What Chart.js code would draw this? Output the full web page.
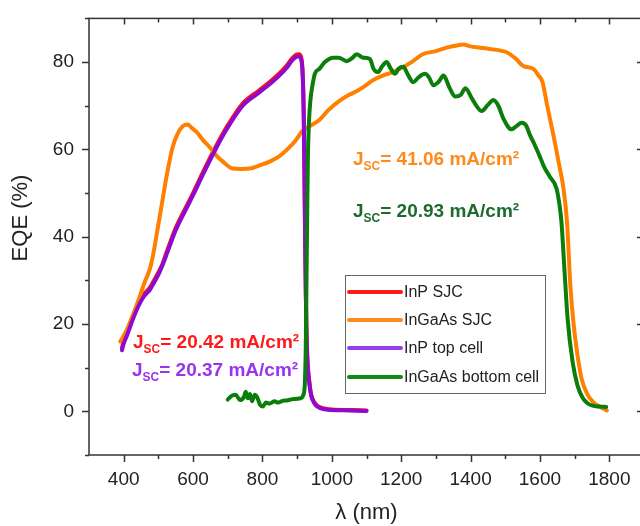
<!DOCTYPE html>
<html>
<head>
<meta charset="utf-8">
<script src="https://cdn.jsdelivr.net/npm/chart.js@4.4.0/dist/chart.umd.min.js"></script>
<style>
  html, body { margin: 0; padding: 0; overflow: hidden; background: #fff; }
  #wrap { width: 644px; height: 526px; position: relative; }
</style>
</head>
<body>
<div id="wrap"><canvas id="eqe"></canvas></div>
<script>
// wavelengths (nm) and EQE (%)
const inpTopWl  = [395, 400, 410, 426, 445, 460, 475, 484, 500, 513, 524, 550, 581, 600, 630, 668, 700, 743, 790, 829, 850, 870, 885, 898, 905, 912, 916, 919, 921, 923, 925, 927, 930, 935, 940, 950, 960, 975, 1000, 1050, 1100];
const inpTopEqe = [14, 15.5, 17.5, 21, 24.5, 26.5, 27.8, 29, 31.3, 33.7, 36, 41.5, 46.5, 49.5, 54.5, 60.5, 65, 70, 73, 75.5, 77, 78.7, 80.3, 81.2, 81.3, 80.5, 77, 68, 55, 40, 27, 18, 11, 6.5, 3.8, 1.8, 1, 0.5, 0.3, 0.2, 0.1];

const inpSjcWl  = [395, 400, 410, 426, 445, 460, 475, 484, 500, 513, 524, 550, 581, 600, 630, 668, 700, 743, 790, 829, 850, 870, 885, 898, 905, 912, 916, 919, 921, 923, 925, 927, 930, 935, 940, 950, 960, 975, 1000, 1050, 1100];
const inpSjcEqe = [14.5, 16, 18, 21.5, 25, 27, 28.3, 29.5, 31.8, 34, 36.5, 42, 47, 50, 55, 61, 65.5, 70.5, 73.5, 76, 77.5, 79.2, 80.8, 81.7, 81.8, 81, 77.5, 68.5, 55.5, 40.5, 27.5, 18.5, 11.5, 7, 4, 2, 1.2, 0.7, 0.4, 0.3, 0.2];

const ingaasSjcWl  = [390, 405, 426, 445, 460, 475, 484, 494, 509, 524, 541, 555, 570, 585, 595, 610, 630, 648, 668, 686, 714, 740, 763, 790, 821, 850, 878, 895, 916, 940, 965, 990, 1020, 1050, 1071, 1095, 1118, 1150, 1170, 1195, 1230, 1262, 1300, 1331, 1360, 1380, 1400, 1428, 1455, 1505, 1530, 1552, 1582, 1596, 1607, 1621, 1640, 1654, 1668, 1678, 1688, 1697, 1707, 1720, 1736, 1755, 1774, 1793];
const ingaasSjcEqe = [16, 18, 22, 26, 29.5, 32.5, 35.5, 40, 47, 54, 60.5, 63.5, 65.3, 65.7, 65, 64, 62, 60.5, 58.5, 57.2, 55.6, 55.5, 55.6, 56.3, 57.2, 58.5, 60.5, 62, 64.3, 65.5, 66.8, 69, 71, 72.5, 73.3, 74.5, 75.8, 77, 77.5, 78.4, 80, 81.8, 82.5, 83.3, 83.8, 84, 83.6, 83.3, 83, 82.2, 80.8, 79.1, 78.4, 76.9, 75.5, 70, 62.8, 57, 51, 43.4, 28.5, 20, 13.6, 7.5, 4, 2, 1, 0.2];

const ingaasBotWl  = [700, 710, 723, 735, 746, 752, 758, 764, 770, 778, 785, 793, 801, 810, 821, 835, 845, 858, 870, 887, 900, 910, 918, 922, 925, 927, 929, 931, 934, 938, 945, 951, 965, 980, 1004, 1020, 1043, 1060, 1071, 1090, 1110, 1120, 1133, 1145, 1158, 1170, 1182, 1193, 1206, 1220, 1235, 1250, 1269, 1280, 1293, 1308, 1322, 1340, 1356, 1372, 1385, 1405, 1432, 1450, 1466, 1480, 1495, 1518, 1535, 1547, 1560, 1570, 1585, 1599, 1612, 1628, 1648, 1656, 1662, 1671, 1680, 1694, 1708, 1723, 1738, 1752, 1770, 1791];
const ingaasBotEqe = [2.7, 3.5, 3.8, 2.6, 3.2, 4.5, 3.0, 4.0, 2.3, 3.8, 3.2, 1.5, 1.1, 2.0, 1.8, 2.3, 2.0, 2.4, 2.5, 2.8, 2.9, 3.0, 3.8, 6, 15, 30, 45, 58, 66, 71, 75, 77.3, 78.5, 80, 81, 81, 80.2, 81, 81.8, 81, 80.7, 78.5, 77.7, 79, 80, 78.5, 77.3, 78.5, 78.9, 77, 75.4, 76.5, 77.3, 76.5, 74.7, 75.5, 76.9, 74, 72.1, 72.5, 74, 71.5, 68.8, 70.2, 71.3, 70, 67, 64.6, 65.5, 66.1, 65.5, 63.5, 61, 58.5, 56, 53.8, 51, 47.5, 43.4, 32, 21, 11.4, 6, 3.1, 1.8, 1.3, 1.1, 1];

const xMajorTicks = [400, 600, 800, 1000, 1200, 1400, 1600, 1800];
const xMinorTicks = [500, 700, 900, 1100, 1300, 1500, 1700];
const yMajorTicks = [0, 20, 40, 60, 80];
const yMinorTicks = [-10, 10, 30, 50, 70, 90];

const seriesNames = ['InP SJC', 'InGaAs SJC', 'InP top cell', 'InGaAs bottom cell'];
const seriesColors = ['#ff1010', '#ff8000', '#8e0ad0', '#0a7d0a'];
const legendColors = ['#ff1a1a', '#ff8a1a', '#9440ee', '#138a13'];
const jscLabels = ['20.42', '41.06', '20.37', '20.93'];
const jscColors = ['#ff1a1a', '#ff8a1a', '#9933ee', '#1d6b2e'];

const FONT = '"Liberation Sans", Arial, sans-serif';

function toPoints(wl, eqe) {
    return wl.map((w, i) => ({ x: w, y: eqe[i] }));
}

const frame = {
    id: 'frame',
    afterDraw(chart) {
        const ctx = chart.ctx;
        const { left, right, top, bottom } = chart.chartArea;
        const xs = chart.scales.x, ys = chart.scales.y;
        ctx.save();
        ctx.strokeStyle = '#333';
        ctx.lineWidth = 1.5;
        ctx.strokeRect(left, top, right - left, bottom - top);

        ctx.beginPath();
        xMajorTicks.forEach(v => {
            const p = Math.round(xs.getPixelForValue(v)) + 0.5;
            ctx.moveTo(p, bottom); ctx.lineTo(p, bottom + 7);
            ctx.moveTo(p, top); ctx.lineTo(p, top + 6);
        });
        xMinorTicks.forEach(v => {
            const p = Math.round(xs.getPixelForValue(v)) + 0.5;
            ctx.moveTo(p, bottom); ctx.lineTo(p, bottom + 4);
            ctx.moveTo(p, top); ctx.lineTo(p, top + 4);
        });
        yMajorTicks.forEach(v => {
            const p = Math.round(ys.getPixelForValue(v)) + 0.5;
            ctx.moveTo(left - 7, p); ctx.lineTo(left, p);
            ctx.moveTo(right - 7, p); ctx.lineTo(right, p);
        });
        yMinorTicks.forEach(v => {
            const p = Math.round(ys.getPixelForValue(v)) + 0.5;
            ctx.moveTo(left - 4, p); ctx.lineTo(left, p);
            ctx.moveTo(right - 4, p); ctx.lineTo(right, p);
        });
        ctx.stroke();

        // axis titles
        ctx.fillStyle = '#222';
        ctx.textAlign = 'center';
        ctx.textBaseline = 'middle';
        ctx.font = '22px ' + FONT;
        ctx.fillText('λ (nm)', (left + right) / 2, 513);
        ctx.save();
        ctx.translate(21, 218);
        ctx.rotate(-Math.PI / 2);
        ctx.font = '22px ' + FONT;
        ctx.fillText('EQE (%)', 0, 0);
        ctx.restore();

        // Jsc annotations
        const jscPos = [[133, 348], [353, 165], [132, 376], [353, 217]];
        ctx.textAlign = 'left';
        ctx.textBaseline = 'alphabetic';
        jscPos.forEach((pos, i) => {
            let [tx, ty] = pos;
            ctx.fillStyle = jscColors[i];
            ctx.font = 'bold 19px ' + FONT;
            ctx.fillText('J', tx, ty);
            tx += ctx.measureText('J').width;
            ctx.font = 'bold 12px ' + FONT;
            ctx.fillText('SC', tx, ty + 5);
            tx += ctx.measureText('SC').width;
            ctx.font = 'bold 19px ' + FONT;
            ctx.fillText('= ' + jscLabels[i] + ' mA/cm²', tx, ty);
        });

        // legend
        ctx.strokeStyle = '#666';
        ctx.lineWidth = 1;
        ctx.strokeRect(345.5, 275.5, 200, 118);
        const rows = [292, 320, 348, 377];
        ctx.lineCap = 'round';
        ctx.font = '16px ' + FONT;
        ctx.textBaseline = 'middle';
        rows.forEach((ry, i) => {
            ctx.strokeStyle = legendColors[i];
            ctx.lineWidth = 4;
            ctx.beginPath();
            ctx.moveTo(349, ry); ctx.lineTo(401, ry);
            ctx.stroke();
            ctx.fillStyle = '#222';
            ctx.fillText(seriesNames[i], 404, ry + 1);
        });
        ctx.restore();
    }
};

const series = [
    [inpSjcWl, inpSjcEqe],
    [ingaasSjcWl, ingaasSjcEqe],
    [inpTopWl, inpTopEqe],
    [ingaasBotWl, ingaasBotEqe]
];
const drawOrder = [3, 2, 1, 0];

new Chart(document.getElementById('eqe'), {
    type: 'line',
    data: {
        datasets: series.map((s, i) => ({
            label: seriesNames[i],
            data: toPoints(s[0], s[1]),
            borderColor: seriesColors[i],
            backgroundColor: seriesColors[i],
            borderWidth: 4,
            pointRadius: 0,
            cubicInterpolationMode: 'monotone',
            borderCapStyle: 'round',
            borderJoinStyle: 'round',
            order: drawOrder[i]
        }))
    },
    options: {
        responsive: true,
        maintainAspectRatio: false,
        animation: false,
        layout: { padding: { top: 9, right: 0, left: 0, bottom: 0 } },
        plugins: { legend: { display: false }, tooltip: { enabled: false } },
        scales: {
            x: {
                type: 'linear',
                min: 300,
                max: 1900,
                grid: { display: false },
                border: { display: false },
                afterFit: s => { s.height = 71; },
                afterBuildTicks: s => { s.ticks = xMajorTicks.map(v => ({ value: v })); },
                ticks: { color: '#222', padding: 5, maxRotation: 0, font: { family: FONT, size: 19 },
                         callback: v => String(v) }
            },
            y: {
                type: 'linear',
                min: -10,
                max: 90,
                grid: { display: false },
                border: { display: false },
                afterFit: s => { s.width = 89; },
                afterBuildTicks: s => { s.ticks = yMajorTicks.map(v => ({ value: v })); },
                ticks: { color: '#222', padding: 7, font: { family: FONT, size: 19 } }
            }
        }
    },
    plugins: [frame]
});
</script>
</body>
</html>
